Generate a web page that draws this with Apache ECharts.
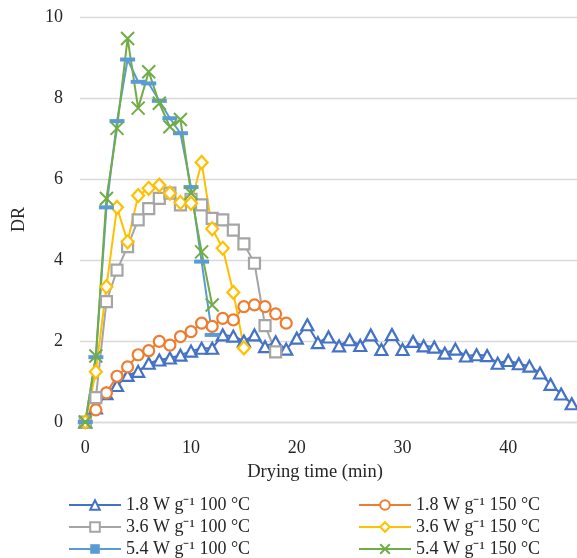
<!DOCTYPE html>
<html>
<head>
<meta charset="utf-8">
<script src="https://cdn.jsdelivr.net/npm/echarts@6/dist/echarts.min.js"></script>
<style>
  html, body { margin: 0; padding: 0; background: #fff; }
  #chart { width: 577px; height: 558px; }
</style>
</head>
<body>
<div id="chart"></div>
<script>
// drying time (min), one category per minute
var dryingTime = ['0','1','2','3','4','5','6','7','8','9','10','11','12','13','14','15','16','17','18','19','20',
  '21','22','23','24','25','26','27','28','29','30','31','32','33','34','35','36','37','38','39','40',
  '41','42','43','44','45','46'];

// drying rate (DR) per condition
var dr18w100 = [0, 0.35, 0.7, 0.9, 1.15, 1.25, 1.45, 1.53, 1.58, 1.65, 1.75, 1.82, 1.82, 2.15, 2.12, 2.0,
  2.15, 1.86, 1.98, 1.8, 2.07, 2.4, 1.96, 2.1, 1.88, 2.03, 1.89, 2.15, 1.79, 2.16, 1.79, 1.99, 1.88,
  1.85, 1.7, 1.8, 1.63, 1.66, 1.64, 1.45, 1.52, 1.44, 1.38, 1.21, 0.93, 0.69, 0.45];
var dr18w150 = [0, 0.3, 0.72, 1.13, 1.36, 1.66, 1.76, 1.99, 1.9, 2.11, 2.23, 2.44, 2.36, 2.56, 2.52,
  2.85, 2.89, 2.85, 2.67, 2.44];
var dr36w100 = [0, 0.6, 2.97, 3.75, 4.33, 4.99, 5.27, 5.52, 5.65, 5.36, 5.5, 5.36, 5.03, 4.99, 4.74,
  4.4, 3.92, 2.38, 1.73];
var dr36w150 = [0, 1.24, 3.34, 5.3, 4.45, 5.59, 5.77, 5.85, 5.65, 5.42, 5.4, 6.41, 4.77, 4.29, 3.2, 1.83];
var dr54w100 = [0, 1.6, 5.3, 7.43, 8.95, 8.4, 8.36, 7.93, 7.5, 7.13, 5.8, 3.96, 2.15];
var dr54w150 = [0, 1.63, 5.52, 7.25, 9.47, 7.75, 8.65, 7.87, 7.29, 7.47, 5.65, 4.2, 2.89];

var names = ['1.8 W g⁻¹ 100 °C', '1.8 W g⁻¹ 150 °C', '3.6 W g⁻¹ 100 °C',
  '3.6 W g⁻¹ 150 °C', '5.4 W g⁻¹ 100 °C', '5.4 W g⁻¹ 150 °C'];

var font = '"Liberation Serif", "Times New Roman", serif';
var textColor = '#262626';

function lineSeries(name, data, color, symbol, size, filled) {
  return {
    name: name,
    type: 'line',
    data: data,
    symbol: symbol,
    symbolSize: size,
    showAllSymbol: true,
    lineStyle: { color: color, width: 2 },
    itemStyle: filled
      ? { color: color, borderColor: color, borderWidth: 0 }
      : { color: '#fff', borderColor: color, borderWidth: 2.2 },
    emphasis: { disabled: true }
  };
}

function legendColumn(items, left) {
  return {
    data: items,
    orient: 'vertical',
    left: left,
    top: 496,
    height: 64,
    padding: 0,
    itemWidth: 52,
    itemHeight: 12,
    itemGap: 4,
    textStyle: { fontSize: 18, lineHeight: 18, color: textColor, fontFamily: font }
  };
}

var chart = echarts.init(document.getElementById('chart'));

var option = {
  animation: false,
  textStyle: { fontFamily: font },
  grid: { left: 80, right: 0, top: 17, bottom: 136 },
  xAxis: {
    type: 'category',
    data: dryingTime,
    boundaryGap: true,
    axisLine: { lineStyle: { color: '#d9d9d9', width: 1.3 } },
    axisTick: { show: false },
    axisLabel: { interval: 9, margin: 17, fontSize: 18, color: textColor, fontFamily: font },
    splitLine: { show: false }
  },
  yAxis: {
    type: 'value',
    min: 0,
    max: 10,
    interval: 2,
    name: 'DR',
    nameLocation: 'middle',
    nameGap: 52,
    nameTextStyle: { fontSize: 18, color: textColor, fontFamily: font },
    axisLine: { show: false },
    axisTick: { show: false },
    axisLabel: { margin: 17, fontSize: 18, color: textColor, fontFamily: font },
    splitLine: { lineStyle: { color: '#d9d9d9', width: 1.3 } }
  },
  graphic: [{
    type: 'text',
    x: 315,
    y: 472,
    style: {
      text: 'Drying time (min)',
      font: '18.5px ' + font,
      fill: textColor,
      textAlign: 'center',
      textVerticalAlign: 'middle'
    }
  }],
  legend: [
    legendColumn([names[0], names[2], names[4]], 68),
    legendColumn([names[1], names[3], names[5]], 358)
  ],
  series: [
    lineSeries(names[0], dr18w100, '#4472C4', 'triangle', [12, 11], false),
    lineSeries(names[1], dr18w150, '#ED7D31', 'circle', 11, false),
    lineSeries(names[2], dr36w100, '#A5A5A5', 'rect', 11, false),
    lineSeries(names[3], dr36w150, '#FFC000', 'diamond', [12, 13], false),
    lineSeries(names[4], dr54w100, '#5B9BD5', 'rect', [15, 4], true),
    (function () {
      var s = lineSeries(names[5], dr54w150, '#70AD47', 'path://M0,0L10,10M10,0L0,10', 13, true);
      s.itemStyle = { color: '#70AD47', borderColor: '#70AD47', borderWidth: 2 };
      return s;
    })()
  ]
};

chart.setOption(option);
</script>
</body>
</html>
